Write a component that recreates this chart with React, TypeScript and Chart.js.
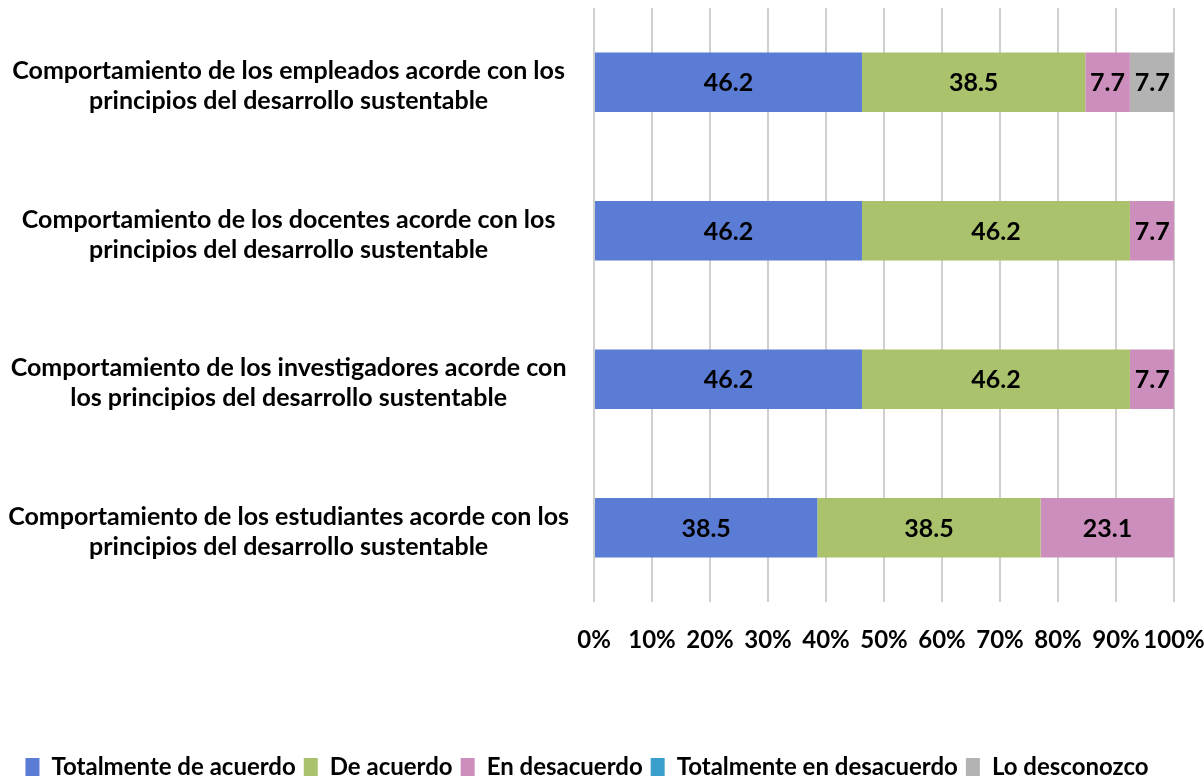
import React, { useEffect, useRef } from "react";
import { Chart, registerables } from "chart.js";

Chart.register(...registerables);

const categories: string[][] = [
  ["Comportamiento de los empleados acorde con los", "principios del desarrollo sustentable"],
  ["Comportamiento de los docentes acorde con los", "principios del desarrollo sustentable"],
  ["Comportamiento de los investigadores acorde con", "los principios del desarrollo sustentable"],
  ["Comportamiento de los estudiantes acorde con los", "principios del desarrollo sustentable"],
];

const seriesNames = [
  "Totalmente de acuerdo",
  "De acuerdo",
  "En desacuerdo",
  "Totalmente en desacuerdo",
  "Lo desconozco",
];

const totalmenteDeAcuerdo = [46.2, 46.2, 46.2, 38.5];
const deAcuerdo = [38.5, 46.2, 46.2, 38.5];
const enDesacuerdo = [7.7, 7.7, 7.7, 23.1];
const totalmenteEnDesacuerdo = [0, 0, 0, 0];
const loDesconozco = [7.7, 0, 0, 0];

const xTicks = [0, 10, 20, 30, 40, 50, 60, 70, 80, 90, 100];

const colors = ["#5B7CD5", "#A9C26B", "#CC8FBD", "#3A9FCC", "#B3B3B3"];

const FONT = "Lato, 'Open Sans', sans-serif";

const dataLabelPlugin = {
  id: "dataLabels",
  afterDatasetsDraw(chart: any) {
    const ctx = chart.ctx;
    ctx.save();
    ctx.font = `bold 25px ${FONT}`;
    ctx.fillStyle = "#000";
    ctx.textAlign = "center";
    ctx.textBaseline = "middle";
    chart.data.datasets.forEach((ds: any, di: number) => {
      const meta = chart.getDatasetMeta(di);
      meta.data.forEach((bar: any, i: number) => {
        const v = ds.data[i];
        if (!v) return;
        const cx = (bar.x + bar.base) / 2;
        ctx.fillText(v.toFixed(1), cx, bar.y + 1);
      });
    });
    ctx.restore();
  },
};

export default function App() {
  const ref = useRef<HTMLCanvasElement | null>(null);
  useEffect(() => {
    if (!ref.current) return;
    const allSeries = [totalmenteDeAcuerdo, deAcuerdo, enDesacuerdo, totalmenteEnDesacuerdo, loDesconozco];
    const chart = new Chart(ref.current, {
      type: "bar",
      data: {
        labels: categories,
        datasets: allSeries.map((d, i) => ({
          label: seriesNames[i],
          data: d,
          backgroundColor: colors[i],
          borderWidth: 0,
          barPercentage: 0.4,
          categoryPercentage: 1,
        })),
      },
      options: {
        indexAxis: "y",
        animation: false,
        responsive: false,
        layout: { padding: { top: 8, right: 30, left: 0, bottom: -8 } },
        plugins: {
          tooltip: { enabled: false },
          legend: {
            position: "bottom",
            labels: {
              color: "#000",
              font: { family: FONT, size: 24, weight: "bold" },
              boxWidth: 14,
              boxHeight: 18,
              padding: 8,
            },
          },
        },
        scales: {
          x: {
            stacked: true,
            min: 0,
            max: 100,
            afterBuildTicks: (scale: any) => {
              scale.ticks = xTicks.map((v) => ({ value: v }));
            },
            afterFit: (scale: any) => {
              scale.height = 145;
              scale.paddingLeft = 0;
              scale.paddingRight = 0;
            },
            ticks: {
              color: "#000",
              font: { family: FONT, size: 24, weight: "bold" },
              padding: 24,
              maxRotation: 0,
              autoSkip: false,
              callback: (v: any) => `${v}%`,
            },
            grid: { color: "#cfcfcf", lineWidth: 2, drawTicks: false },
            border: { display: false },
          },
          y: {
            stacked: true,
            afterFit: (scale: any) => {
              scale.width = 594;
              scale.paddingTop = 0;
              scale.paddingBottom = 0;
            },
            ticks: {
              color: "#000",
              font: { family: FONT, size: 25, weight: "bold", lineHeight: 1.2 },
              crossAlign: "center",
              padding: 25,
              labelOffset: 4,
            },
            grid: { display: false, drawTicks: false },
            border: { display: false },
          },
        },
      },
      plugins: [dataLabelPlugin],
    } as any);
    return () => chart.destroy();
  }, []);
  return (
    <div style={{ position: "absolute", left: 0, top: 0, width: 1204, height: 781, background: "#fff" }}>
      <canvas ref={ref} width={1204} height={781} style={{ width: 1204, height: 781 }} />
    </div>
  );
}
